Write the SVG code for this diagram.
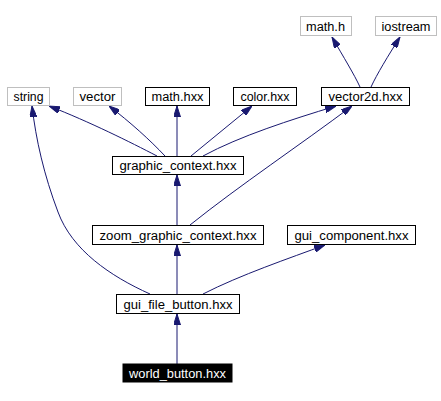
<svg xmlns="http://www.w3.org/2000/svg" width="441" height="401" viewBox="0 0 441 401">
<defs>
<style>
.n rect{fill:#fff;stroke:#000;stroke-width:1}
.g rect{stroke:#bfbfbf}
.n text{font-family:"Liberation Sans",Arial,sans-serif;font-size:12px;text-anchor:middle;fill:#000}
#world_button rect{fill:#000;stroke:#000}
#world_button text{fill:#fff}
#edges path{fill:none;stroke:#191970;stroke-width:1;marker-end:url(#arr)}
</style>
<marker id="arr" markerUnits="userSpaceOnUse" viewBox="0 0 11 7" refX="11" refY="3.5" markerWidth="11" markerHeight="7" orient="auto">
<path d="M0,0 L11,3.5 L0,7 z" fill="#191970" stroke="#191970" stroke-width="1"/>
</marker>
</defs>
<rect width="441" height="401" fill="#fff"/>
<g id="edges">
<path d="M360,87 C354,74 344,58 332,37"/>
<path d="M371,87 C377,74 388,56 400,37"/>
<path d="M157,156 C130,142 90,122 49,106"/>
<path d="M165,156 C150,140 130,122 109,106"/>
<path d="M177,156 L177,106"/>
<path d="M191,156 L252,106"/>
<path d="M203,156 C240,136 290,120 336,106"/>
<path d="M177,225 L177,175"/>
<path d="M190,225 C240,185 300,145 352,106"/>
<path d="M150,294 C110,276 72,250 58,212 C44,175 36,140 32,106"/>
<path d="M177,294 L177,245"/>
<path d="M203,294 C240,275 290,258 325,245"/>
<path d="M177,364 L177,314"/>
</g>
<g id="math_h" class="n g"><rect x="300.5" y="16.5" width="51" height="19"/><text x="325.5" y="30.5" textLength="39" lengthAdjust="spacingAndGlyphs">math.h</text></g>
<g id="iostream" class="n g"><rect x="375.5" y="16.5" width="61" height="19"/><text x="406" y="30.5" textLength="49" lengthAdjust="spacingAndGlyphs">iostream</text></g>
<g id="string" class="n g"><rect x="7.5" y="87.5" width="42" height="18"/><text x="28.5" y="101" textLength="30" lengthAdjust="spacingAndGlyphs">string</text></g>
<g id="vector" class="n g"><rect x="73.5" y="87.5" width="48" height="18"/><text x="97.5" y="101" textLength="36" lengthAdjust="spacingAndGlyphs">vector</text></g>
<g id="math_hxx" class="n"><rect x="145.5" y="87.5" width="64" height="18"/><text x="177.5" y="101" textLength="52" lengthAdjust="spacingAndGlyphs">math.hxx</text></g>
<g id="color_hxx" class="n"><rect x="233.5" y="87.5" width="63" height="18"/><text x="265" y="101" textLength="49" lengthAdjust="spacingAndGlyphs">color.hxx</text></g>
<g id="vector2d_hxx" class="n"><rect x="321.5" y="87.5" width="88" height="18"/><text x="365.5" y="101" textLength="74" lengthAdjust="spacingAndGlyphs">vector2d.hxx</text></g>
<g id="graphic_context_hxx" class="n"><rect x="112.5" y="156.5" width="131" height="18"/><text x="178" y="170" textLength="117" lengthAdjust="spacingAndGlyphs">graphic_context.hxx</text></g>
<g id="zoom_graphic_context_hxx" class="n"><rect x="92.5" y="225.5" width="171" height="19"/><text x="178" y="239.5" textLength="157" lengthAdjust="spacingAndGlyphs">zoom_graphic_context.hxx</text></g>
<g id="gui_component_hxx" class="n"><rect x="287.5" y="225.5" width="128" height="19"/><text x="351.5" y="239.5" textLength="114" lengthAdjust="spacingAndGlyphs">gui_component.hxx</text></g>
<g id="gui_file_button_hxx" class="n"><rect x="116.5" y="294.5" width="123" height="19"/><text x="178" y="308.5" textLength="109" lengthAdjust="spacingAndGlyphs">gui_file_button.hxx</text></g>
<g id="world_button" class="n"><rect x="123" y="364" width="109" height="18"/><text x="177.5" y="377.5" textLength="97" lengthAdjust="spacingAndGlyphs">world_button.hxx</text></g>
</svg>
